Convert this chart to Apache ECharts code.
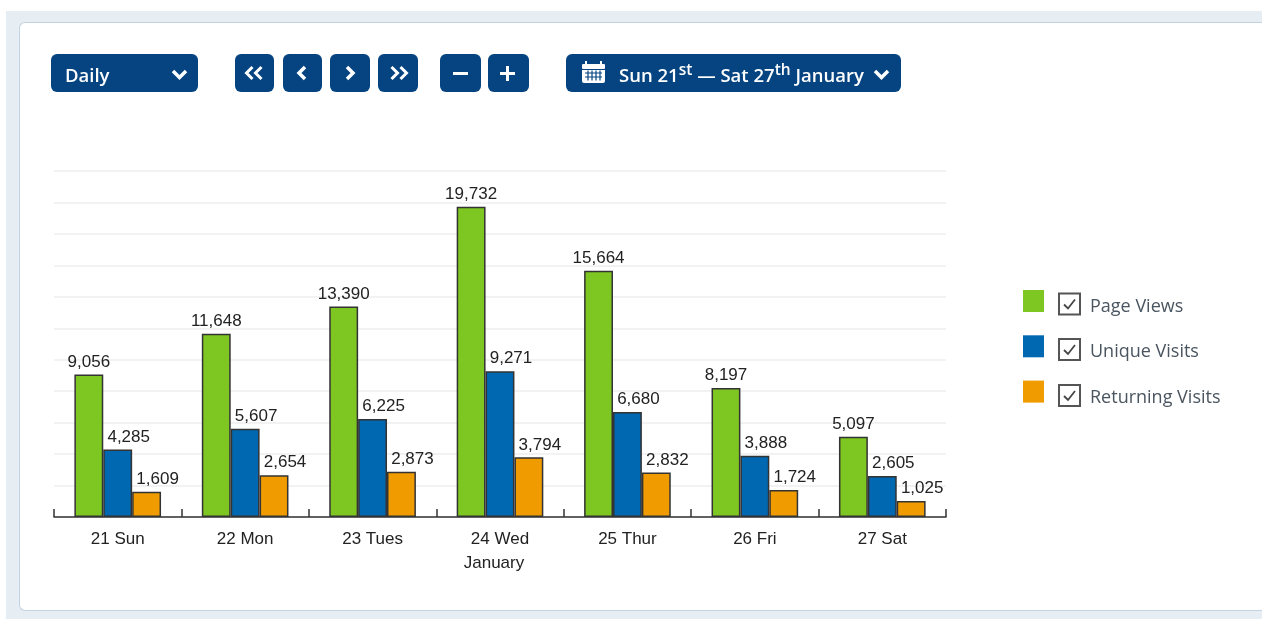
<!DOCTYPE html>
<html>
<head>
<meta charset="utf-8">
<title>Daily visits</title>
<script src="https://cdn.jsdelivr.net/npm/echarts@6/dist/echarts.min.js"></script>
<style>
html, body { margin: 0; padding: 0; background: #fff; overflow: hidden; }
#panel { position: absolute; left: 6px; top: 11px; width: 1256px; height: 608px; background: #e6edf3; }
#card { position: absolute; left: 19px; top: 22px; width: 1243px; height: 589px; background: #fff;
    border: 1px solid #c3d3e4; border-right: 0; border-radius: 6px 0 0 6px; box-sizing: border-box; }
#daily { position: absolute; left: 0; top: 0; width: 1269px; height: 619px; }
.btn { position: absolute; top: 54px; height: 38px; background: #054481; border-radius: 6px; color: #fff;
    font: 600 18.500px "Open Sans", sans-serif; line-height: 42px; }
.btn svg { position: absolute; top: 0; left: 0; }
.btn span { position: absolute; white-space: nowrap; }
sup { font-size: 15.500px; line-height: 0; position: relative; top: -1px; vertical-align: 6px; }
</style>
</head>
<body>
<div id="panel"></div>
<div id="card"></div>
<div id="daily"></div>
<div class="btn" style="left:51px;width:147px"><span style="left:14px">Daily</span>
    <svg width="147" height="38"><path d="M122 17l6.500 6.500 6.500-6.500" fill="none" stroke="#fff" stroke-width="3.500"/></svg></div>
<div class="btn" style="left:235px;width:39px">
    <svg width="39" height="38"><path d="M17.500 13l-6 6 6 6M26.500 13l-6 6 6 6" fill="none" stroke="#fff" stroke-width="3"/></svg></div>
<div class="btn" style="left:283px;width:39px">
    <svg width="39" height="38"><path d="M22 13l-6 6 6 6" fill="none" stroke="#fff" stroke-width="3.500"/></svg></div>
<div class="btn" style="left:330px;width:40px">
    <svg width="40" height="38"><path d="M17 13l6 6-6 6" fill="none" stroke="#fff" stroke-width="3.500"/></svg></div>
<div class="btn" style="left:378px;width:40px">
    <svg width="40" height="38"><path d="M13.500 13l6 6-6 6M22.500 13l6 6-6 6" fill="none" stroke="#fff" stroke-width="3"/></svg></div>
<div class="btn" style="left:440px;width:41px">
    <svg width="41" height="38"><path d="M13 19.500h15" fill="none" stroke="#fff" stroke-width="3"/></svg></div>
<div class="btn" style="left:488px;width:41px">
    <svg width="41" height="38"><path d="M12 19.500h15M19.500 12v15" fill="none" stroke="#fff" stroke-width="3"/></svg></div>
<div class="btn" style="left:566px;width:335px"><span style="left:53px">Sun 21<sup>st</sup> — Sat 27<sup>th</sup> January</span>
    <svg width="335" height="38"><g fill="#fff"><rect x="16" y="10" width="23" height="5" rx="1"/><rect x="19" y="7" width="2" height="5"/><rect x="34" y="7" width="2" height="5"/>
        <path d="M16 16h23v11a2 2 0 0 1-2 2H18a2 2 0 0 1-2-2z"/></g>
        <path d="M19 19h17M19 23h17M22 16.500v10M26 16.500v10M30 16.500v10M34 16.500v10" stroke="#054481" stroke-width="1.200" fill="none"/>
        <path d="M309 17l6.500 6.500 6.500-6.500" fill="none" stroke="#fff" stroke-width="3.500"/></svg></div>
<script>
var categories = ['21 Sun', '22 Mon', '23 Tues', '24 Wed', '25 Thur', '26 Fri', '27 Sat'];
var pageViews = [9056, 11648, 13390, 19732, 15664, 8197, 5097];
var uniqueVisits = [4285, 5607, 6225, 9271, 6680, 3888, 2605];
var returningVisits = [1609, 2654, 2873, 3794, 2832, 1724, 1025];

var myChart = echarts.init(document.getElementById('daily'), null, { renderer: 'canvas' });

function formatNum(params) {
    return params.value.toLocaleString('en-US');
}
function barSeries(name, data, color, offset) {
    return {
        name: name,
        type: 'bar',
        data: data,
        barGap: 0,
        barCategoryGap: '32%',
        itemStyle: { color: color, borderColor: '#333', borderWidth: 1.5 },
        label: {
            show: true,
            position: 'top',
            distance: 4,
            offset: [offset, 0],
            formatter: formatNum,
            color: '#222',
            fontFamily: 'Liberation Sans',
            fontSize: 17
        }
    };
}
// checkboxes next to the legend swatches
function checkBox(y) {
    return {
        type: 'group',
        x: 1059,
        y: y,
        children: [
            { type: 'rect', shape: { x: 0, y: 0, width: 21, height: 21 }, style: { fill: '#fff', stroke: '#555', lineWidth: 2 } },
            { type: 'polyline', shape: { points: [[5, 11], [9, 15], [16, 6]] }, style: { fill: 'none', stroke: '#444', lineWidth: 1.8 } }
        ]
    };
}

var option = {
    animation: false,
    grid: { left: 54, right: 323, top: 171, bottom: 102 },
    legend: {
        orient: 'vertical',
        left: 1023,
        top: 290,
        padding: 0,
        itemWidth: 21,
        itemHeight: 22,
        itemGap: 19.3,
        icon: 'rect',
        selectedMode: false,
        itemStyle: { borderWidth: 0 },
        data: ['Page Views', 'Unique Visits', 'Returning Visits'],
        formatter: '{t|{name}}',
        textStyle: {
            padding: [0, 0, 0, 41],
            rich: {
                // text sits a little below the swatch centre, as in the picture
                t: {
                    color: '#4a5560',
                    fontFamily: 'Open Sans',
                    fontSize: 18,
                    lineHeight: 30,
                    verticalAlign: 'bottom'
                }
            }
        }
    },
    xAxis: {
        type: 'category',
        data: categories,
        name: 'January',
        nameLocation: 'middle',
        nameGap: 38,
        nameTextStyle: { color: '#222', fontFamily: 'Liberation Sans', fontSize: 17, padding: [0, 12, 0, 0] },
        axisLine: { lineStyle: { color: '#333', width: 1.5 } },
        axisTick: { show: true, inside: true, length: 8, lineStyle: { color: '#333', width: 1.5 } },
        axisLabel: { color: '#222', fontFamily: 'Liberation Sans', fontSize: 17, margin: 14 }
    },
    yAxis: {
        type: 'value',
        min: 0,
        max: 22000,
        interval: 2000,
        axisLine: { show: false },
        axisTick: { show: false },
        axisLabel: { show: false },
        splitLine: { lineStyle: { color: '#eeeeee', width: 1.5 } }
    },
    graphic: [checkBox(293.5), checkBox(339), checkBox(385)],
    series: [
        barSeries('Page Views', pageViews, '#7ec621', 0),
        barSeries('Unique Visits', uniqueVisits, '#0067b1', 11),
        barSeries('Returning Visits', returningVisits, '#f09c00', 11)
    ]
};
myChart.setOption(option);
</script>
</body>
</html>
